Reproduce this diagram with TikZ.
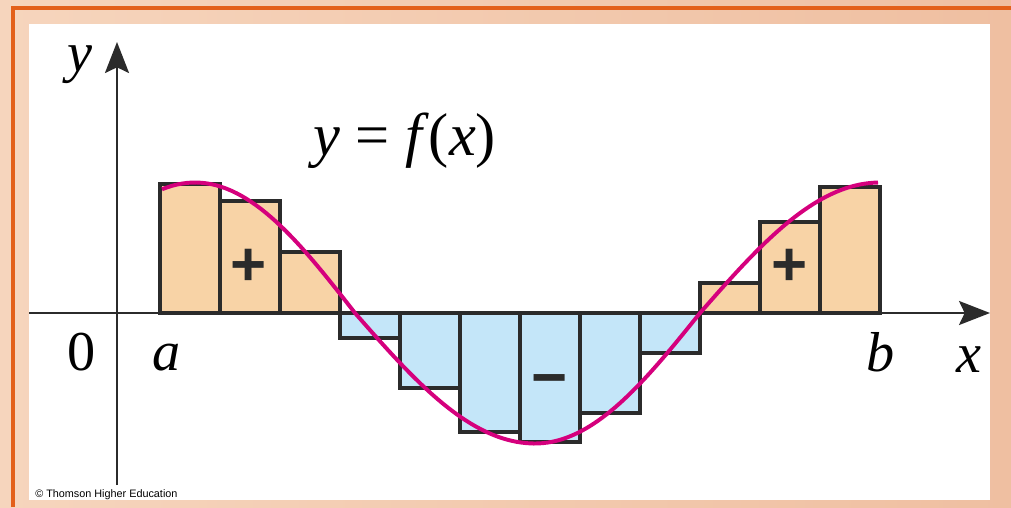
\documentclass[tikz,border=0pt]{standalone}
\usepackage{fontspec}
\setmainfont{Liberation Serif}
\newfontfamily\arialf{Liberation Sans}
\usetikzlibrary{arrows.meta}
\definecolor{bgpeach}{HTML}{F6D5BD}
\definecolor{bgpeachb}{HTML}{EFBFA1}
\definecolor{frameorange}{HTML}{E3601A}
\definecolor{posfill}{HTML}{F8D3A6}
\definecolor{negfill}{HTML}{C4E6F9}
\definecolor{curvecol}{HTML}{D5007D}
\definecolor{ink}{HTML}{2B2B2B}
\begin{document}
\begin{tikzpicture}[x=0.025cm,y=-0.025cm,
  bar/.style={draw=ink,line width=2.7pt,line join=miter},
  posbar/.style={bar,fill=posfill},
  negbar/.style={bar,fill=negfill},
  axisline/.style={draw=ink,line width=2pt,-{Stealth[length=22pt,width=17pt,inset=4pt]}},
  lbl/.style={font=\fontsize{40}{40}\selectfont,inner sep=0pt,anchor=base},
  sign/.style={font=\arialf\bfseries\fontsize{44}{44}\selectfont,inner sep=0pt,anchor=base,text=ink},
  curve/.style={draw=curvecol,line width=2.8pt}]
\useasboundingbox (0,0) rectangle (1011,507);
\shade[left color=bgpeach,right color=bgpeachb] (0,0) rectangle (1011,507);
\draw[frameorange,line width=2.6pt] (13,507) -- (13,8) -- (1011,8);
\fill[white] (29,24) rectangle (990,500);
% axes
\coordinate (xstart) at (29,313);
\coordinate (xend) at (990,313);
\coordinate (ystart) at (117,485);
\coordinate (yend) at (117,42);
\draw[axisline] (xstart) -- (xend);
\draw[axisline] (ystart) -- (yend);
% rectangles
\foreach \l/\t in {160/184,220/201,280/252,700/283,760/222,820/187}
  \draw[posbar] (\l,313) rectangle (\l+60,\t);
\foreach \l/\t in {340/338,400/388,460/432,520/442,580/413,640/353}
  \draw[negbar] (\l,313) rectangle (\l+60,\t);
% curve
\draw[curve] plot[domain=162:355,samples=40] (\x,{313-130.5*cos((\x-195)*90/160)})
  -- plot[domain=355:535,samples=40] (\x,{313-130.5*cos(90+(\x-355)*0.5)})
  -- plot[domain=535:700,samples=40] (\x,{313-130.5*cos(180+(\x-535)*90/165)})
  -- plot[domain=700:878,samples=40] (\x,{313-130.5*cos(270+(\x-700)*0.5)});
% labels
\node[lbl] (ylab) at (80,71) {\textit{y}};
\node[lbl] (xlab) at (969,372) {\textit{x}};
\node[lbl] (zero) at (82,370) {0};
\node[lbl] (alab) at (167,370) {\textit{a}};
\node[lbl] (blab) at (881,371) {\textit{b}};
\node[lbl,font=\fontsize{43}{43}\selectfont] (func) at (405,155) {\textit{y} = \textit{f}(\textit{x})};
\node[sign] (plusL) at (249,285) {+};
\node[sign] (plusR) at (790,285) {+};
\node[sign] (minus) at (550,398) {−};
\node[font=\arialf\fontsize{7.7}{8}\selectfont,inner sep=0pt,anchor=base west] (copy) at (35,497) {© Thomson Higher Education};
\end{tikzpicture}
\end{document}
